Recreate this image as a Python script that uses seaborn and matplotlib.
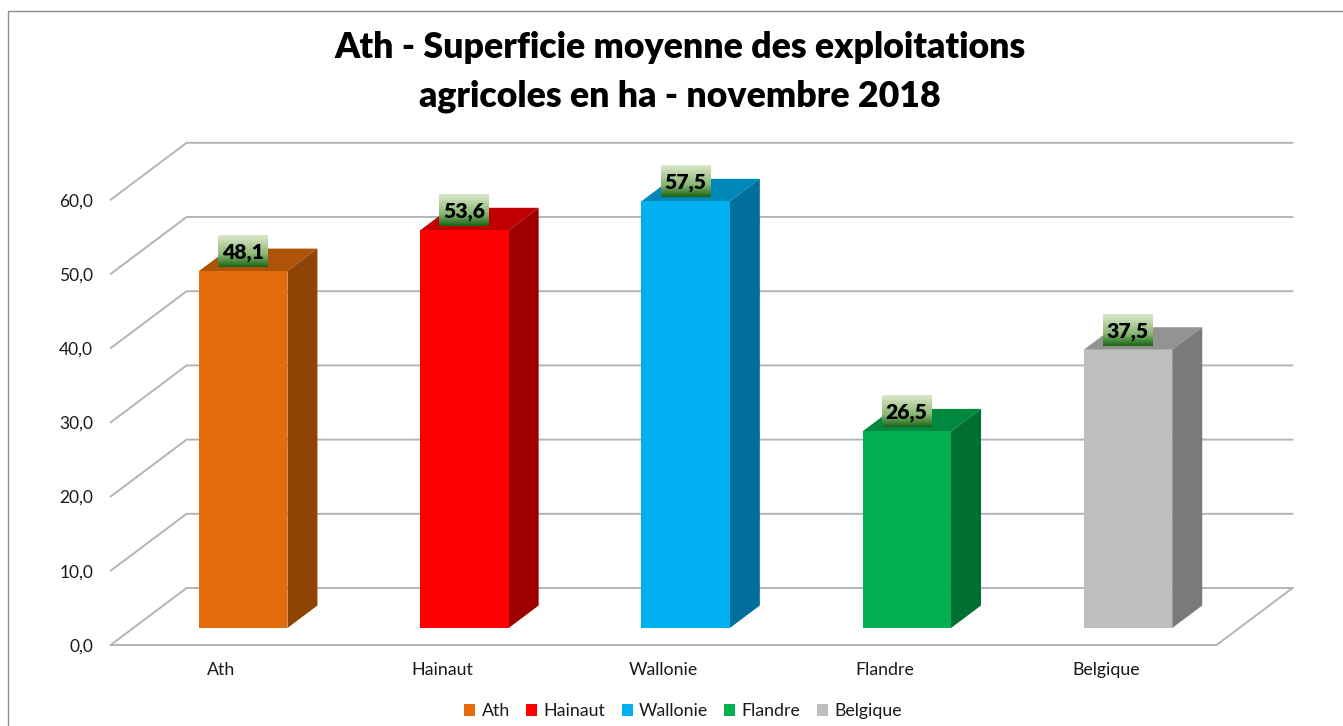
#!/usr/bin/env python
import matplotlib
matplotlib.use('Agg')
import matplotlib.pyplot as plt
from matplotlib.patches import Polygon
from matplotlib.lines import Line2D
from matplotlib.transforms import ScaledTranslation
import seaborn as sns
import numpy as np
import pandas as pd

regions = ['Ath', 'Hainaut', 'Wallonie', 'Flandre', 'Belgique']
surface = [48.1, 53.6, 57.5, 26.5, 37.5]
labels = ['48,1', '53,6', '57,5', '26,5', '37,5']
yticks = [0, 10, 20, 30, 40, 50, 60]
yticklabels = ['0,0', '10,0', '20,0', '30,0', '40,0', '50,0', '60,0']
title = 'Ath - Superficie moyenne des exploitations\nagricoles en ha - novembre 2018'

front = ['#E46C0A', '#FF0000', '#00B0F0', '#00B050', '#BFBFBF']
top = ['#AE5308', '#C00000', '#0088BA', '#00883E', '#939393']
side = ['#8F4406', '#9C0000', '#006F9B', '#006F32', '#7A7A7A']
grid_col = '#B4B4B4'

W, H = 1343, 726
sns.set_theme(style='white')
plt.rcParams['font.family'] = ['Lato', 'DejaVu Sans']

fig = plt.figure(figsize=(W / 100, H / 100), dpi=100)
# axes = plane of the front of the bars
ax_l, ax_r, ax_b, ax_t = 132.6, 1238.6, 628, 182.8
ax = fig.add_axes([ax_l / W, 1 - ax_b / H, (ax_r - ax_l) / W, (ax_b - ax_t) / H])

df = pd.DataFrame({'region': regions, 'surface': surface})
sns.barplot(data=df, x='region', y='surface', hue='region', palette=front,
            width=0.4, dodge=False, saturation=1, ax=ax, legend=False, zorder=3,
            edgecolor='none', linewidth=0)
ax.set_xlim(-0.5, 4.5)
ax.set_ylim(0, 60)
ax.set_xlabel('')
ax.set_ylabel('')
sns.despine(ax=ax, left=True, bottom=True)
ax.patch.set_alpha(0)

# pixels to data units
ux = 5 / (ax_r - ax_l)
uy = 60 / (ax_b - ax_t)

# walls and floor
x0, x1 = ax.get_xlim()
fx, fy = -22 * ux, -17 * uy
bx, by = 54 * ux, 40 * uy
for v in yticks:
    ax.add_line(Line2D([x0 + fx, x0 + bx, x1 + bx], [v + fy, v + by, v + by],
                       color=grid_col, lw=1.4, clip_on=False, zorder=1))
ax.add_line(Line2D([x0 + fx, x1 + fx, x1 + bx], [fy, fy, by],
                   color=grid_col, lw=1.4, clip_on=False, zorder=1))

# depth of the bars
dx, dy = 30 * ux, 22.5 * uy
for p, t, s in zip(ax.patches, top, side):
    xa, xb, h = p.get_x(), p.get_x() + p.get_width(), p.get_height()
    ax.add_patch(Polygon([(xa, h), (xb, h), (xb + dx, h + dy), (xa + dx, h + dy)],
                         fc=t, ec='none', clip_on=False, zorder=2))
    ax.add_patch(Polygon([(xb, 0), (xb + dx, dy), (xb + dx, h + dy), (xb, h)],
                         fc=s, ec='none', clip_on=False, zorder=2))
    p.set_clip_on(False)

# value labels with green gradient box
grad = np.linspace(0, 1, 64).reshape(-1, 1, 1)
c_top = np.array([0.86, 0.91, 0.79]).reshape(1, 1, 3)
c_mid = np.array([0.55, 0.72, 0.47]).reshape(1, 1, 3)
c_bot = np.array([0.10, 0.40, 0.08]).reshape(1, 1, 3)
img = np.where(grad < 0.6, c_top + (c_mid - c_top) * grad / 0.6,
               c_mid + (c_bot - c_mid) * (grad - 0.6) / 0.4)
for i, (v, lab) in enumerate(zip(surface, labels)):
    y_lo = v + 4 * uy
    y_hi = v + 36 * uy
    ax.imshow(img, extent=(i - 25 * ux, i + 25 * ux, y_lo, y_hi), origin='upper',
              aspect='auto', zorder=4, clip_on=False)
    ax.text(i, (y_lo + y_hi) / 2 - 0.2, lab, ha='center', va='center', fontsize=15.2,
            fontweight='heavy', color='black', zorder=5, clip_on=False)
ax.set_xlim(x0, x1)
ax.set_ylim(0, 60)

# tick labels sit on the front edge of the floor
ax.set_yticks(yticks)
ax.set_yticklabels(yticklabels)
ax.tick_params(axis='y', length=0, pad=28.5, labelsize=12.5, colors='#1a1a1a')
ax.tick_params(axis='x', length=0, pad=24.5, labelsize=12.8, colors='#1a1a1a')
off_y = ScaledTranslation(0, -17 / 100, fig.dpi_scale_trans)
off_x = ScaledTranslation(-22 / 100, 0, fig.dpi_scale_trans)
for t in ax.get_yticklabels():
    t.set_transform(t.get_transform() + off_y)
for t in ax.get_xticklabels():
    t.set_transform(t.get_transform() + off_x)

# legend
handles = [plt.Rectangle((0, 0), 1, 1, fc=c, ec='none') for c in front]
fig.legend(handles, regions, loc='center', bbox_to_anchor=(683 / W, 1 - 711 / H), ncol=5,
           frameon=False, fontsize=12.8, handlelength=0.62, handleheight=0.62,
           handletextpad=0.35, columnspacing=0.92, labelcolor='#1a1a1a')

fig.text(680 / W, 1 - 72 / H, title, ha='center', va='center', fontsize=25.7,
         fontweight='heavy', color='black', linespacing=1.58)

# chart frame
fig.add_artist(Line2D([8 / W, 8 / W, 1], [0, 1 - 11 / H, 1 - 11 / H], color='#8C8C8C', lw=1.0))

fig.savefig('out.png', dpi=100)
